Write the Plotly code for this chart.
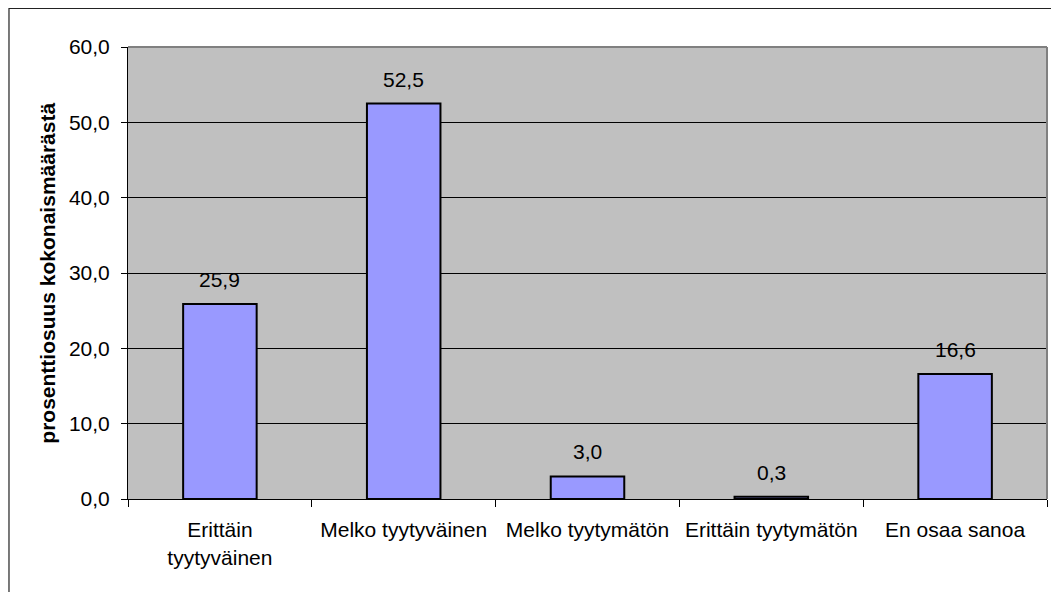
import plotly.graph_objects as go

categories = ["Erittäin<br>tyytyväinen", "Melko tyytyväinen", "Melko tyytymätön",
              "Erittäin tyytymätön", "En osaa sanoa"]
values = [25.9, 52.5, 3.0, 0.3, 16.6]
y_ticks = [0, 10, 20, 30, 40, 50, 60]
y_title = "prosenttiosuus kokonaismäärästä"

FONT = "Liberation Sans, Arial, sans-serif"
FS = 21

fig = go.Figure()
fig.add_trace(go.Bar(
    x=categories, y=values,
    marker=dict(color="#9999FF", line=dict(color="black", width=2)),
    width=0.4,
    hoverinfo="skip",
))

labels = [f"{v:.1f}".replace(".", ",") for v in values]
for c, v, t in zip(categories, values, labels):
    fig.add_annotation(x=c, y=v, text=t, showarrow=False, yanchor="bottom",
                       yshift=11, font=dict(family=FONT, size=FS, color="black"))

# y title
fig.add_annotation(xref="paper", yref="paper", x=-0.0885, y=0.5, text=f"<b>{y_title}</b>",
                   textangle=-90, showarrow=False, xanchor="center", yanchor="middle",
                   font=dict(family=FONT, size=FS, color="black"))

# plot area top/right border (gray)
fig.add_shape(type="line", xref="paper", yref="paper", x0=0, x1=1, y0=1, y1=1,
              line=dict(color="#808080", width=2), layer="above")
fig.add_shape(type="line", xref="paper", yref="paper", x0=1, x1=1, y0=0, y1=1,
              line=dict(color="#808080", width=2), layer="above")
# outer chart border (partially off-image)
fig.add_shape(type="rect", xref="paper", yref="paper", x0=-0.1295, x1=1.2, y0=-0.5, y1=1.0855,
              line=dict(color="#222222", width=1.2), layer="above")

fig.update_layout(
    width=1051, height=584,
    margin=dict(l=120, r=12, t=39, b=93),
    paper_bgcolor="white", plot_bgcolor="#C0C0C0",
    font=dict(family=FONT, size=FS, color="black"),
    separators=", ",
    showlegend=False,
    bargap=0.6,
    xaxis=dict(
        type="category", tickson="boundaries", ticks="outside", ticklen=7,
        tickcolor="black", tickwidth=1, showline=True, linecolor="black", linewidth=1,
        showgrid=False, tickfont=dict(family=FONT, size=FS, color="black"),
        ticklabelstandoff=12,
    ),
    yaxis=dict(
        range=[0, 60], tickvals=y_ticks, tickformat=".1f", ticks="outside", ticklen=6,
        tickcolor="black", showline=True, linecolor="black", linewidth=1,
        showgrid=True, gridcolor="black", gridwidth=1, zeroline=False,
        tickfont=dict(family=FONT, size=FS, color="black"),
        ticklabelstandoff=7,
    ),
)

fig.write_html("out.html")
